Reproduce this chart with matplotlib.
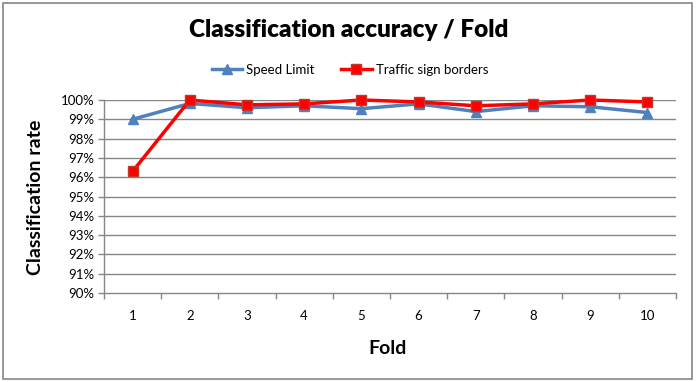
import matplotlib.pyplot as plt
from matplotlib.patches import Rectangle
from matplotlib.ticker import FixedLocator, NullFormatter

plt.rcParams['font.family'] = ['Lato', 'DejaVu Sans']

folds = [1, 2, 3, 4, 5, 6, 7, 8, 9, 10]
speed_limit = [99.0, 99.82, 99.6, 99.7, 99.55, 99.8, 99.4, 99.7, 99.65, 99.35]
sign_borders = [96.3, 100.0, 99.75, 99.8, 100.0, 99.9, 99.7, 99.8, 100.0, 99.9]
y_ticks = list(range(90, 101))

fig = plt.figure(figsize=(6.97, 3.82), dpi=100)
ax = fig.add_axes([104 / 697, 89 / 382, 572 / 697, 193 / 382])

grid_col = '#868686'
for y in y_ticks[1:]:
    ax.axhline(y, color=grid_col, lw=1.0, zorder=0)

ax.plot(folds, speed_limit, color='#4F81BD', lw=2.5, marker='^', ms=7,
        mec='#4F81BD', label='Speed Limit', zorder=3, clip_on=False)
ax.plot(folds, sign_borders, color='#FF0000', lw=2.5, marker='s', ms=7,
        mec='#C0392B', label='Traffic sign borders', zorder=4, clip_on=False)

ax.set_xlim(0.5, 10.5)
ax.set_ylim(90, 100)
ax.set_yticks(y_ticks)
ax.set_yticklabels([f'{v}%' for v in y_ticks], fontsize=9.5)

# category axis: ticks between categories, labels centred
ax.xaxis.set_major_locator(FixedLocator([i + 0.5 for i in range(0, 11)]))
ax.xaxis.set_major_formatter(NullFormatter())
ax.xaxis.set_minor_locator(FixedLocator(folds))
ax.set_xticklabels([str(f) for f in folds], minor=True, fontsize=9.5)
ax.tick_params(axis='x', which='major', length=4, color=grid_col, width=1)
ax.tick_params(axis='x', which='minor', length=0, pad=12)
ax.tick_params(axis='y', length=4, color=grid_col, width=1, pad=3)

for side in ['top', 'right']:
    ax.spines[side].set_visible(False)
for side in ['left', 'bottom']:
    ax.spines[side].set_color(grid_col)
    ax.spines[side].set_linewidth(1.0)

fig.text(0.5, 1 - 30 / 382, 'Classification accuracy / Fold', ha='center', va='center',
         fontsize=17.5, fontweight='heavy')
fig.text(36 / 697, 1 - 197 / 382, 'Classification rate', ha='center', va='center',
         rotation=90, fontsize=14, fontweight='bold')
fig.text(388 / 697, 1 - 349 / 382, 'Fold', ha='center', va='center',
         fontsize=14, fontweight='bold')

ax.legend(loc='center', bbox_to_anchor=(350 / 697, 1 - 70 / 382),
          bbox_transform=fig.transFigure, ncol=2, frameon=False,
          fontsize=9.5, handlelength=2.3, columnspacing=2.0, handletextpad=0.3)

fig.patches.append(Rectangle((3 / 697, 3 / 382), 689 / 697, 376 / 382,
                             transform=fig.transFigure, fill=False,
                             edgecolor=grid_col, lw=1.2))

fig.savefig('out.png', dpi=100)
